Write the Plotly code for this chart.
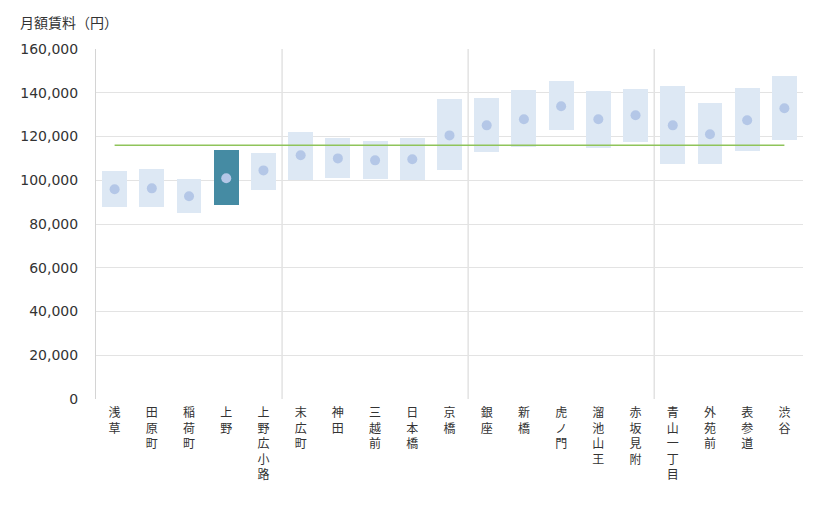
import plotly.graph_objects as go

stations = ["浅草", "田原町", "稲荷町", "上野", "上野広小路", "末広町", "神田", "三越前", "日本橋", "京橋",
            "銀座", "新橋", "虎ノ門", "溜池山王", "赤坂見附", "青山一丁目", "外苑前", "表参道", "渋谷"]
rent_low = [87900, 87900, 85200, 88700, 95500, 100100, 101200, 100600, 100100, 104800,
            113100, 115300, 123100, 114900, 117600, 107600, 107600, 113500, 118500]
rent_high = [104200, 105100, 100600, 113800, 112500, 122100, 119300, 117900, 119300, 137100,
             137600, 141300, 145400, 140800, 141700, 143100, 135300, 142200, 147700]
rent_mid = [95900, 96300, 92700, 100900, 104500, 111400, 110000, 109100, 109600, 120500,
            125100, 127900, 133800, 127900, 129700, 125100, 121000, 127400, 132900]
line_average = 116000
highlight = "上野"
group_sizes = [5, 5, 5, 4]
y_ticks = [0, 20000, 40000, 60000, 80000, 100000, 120000, 140000, 160000]

idx = list(range(len(stations)))
bar_colors = ["#458ba3" if s == highlight else "#dde8f4" for s in stations]

fig = go.Figure()
fig.add_trace(go.Bar(
    x=idx, y=[h - l for h, l in zip(rent_high, rent_low)], base=rent_low,
    marker=dict(color=bar_colors, line=dict(width=0)), width=0.67,
    hoverinfo="skip", showlegend=False))
fig.add_trace(go.Scatter(
    x=[idx[0], idx[-1]], y=[line_average, line_average], mode="lines",
    line=dict(color="#8fc45a", width=1.5), showlegend=False, hoverinfo="skip"))
fig.add_trace(go.Scatter(
    x=idx, y=rent_mid, mode="markers",
    marker=dict(color="#b4c7e7", size=10), showlegend=False))

shapes = []
pos = 0
for g in group_sizes[:-1]:
    pos += g
    shapes.append(dict(type="line", xref="x", yref="paper", x0=pos - 0.5, x1=pos - 0.5,
                       y0=0, y1=1, line=dict(color="#d4d4d4", width=1), layer="below"))

fig.update_layout(
    width=820, height=510,
    margin=dict(l=85, r=25, t=41, b=119),
    plot_bgcolor="white", paper_bgcolor="white",
    font=dict(family="DejaVu Sans, Noto Sans CJK JP", size=14, color="#333333"),
    shapes=shapes,
    annotations=[dict(text="月額賃料（円）", xref="paper", yref="paper", x=-78 / 710, y=1.0,
                      yshift=27, xanchor="left", yanchor="middle", showarrow=False,
                      font=dict(family="Noto Sans CJK JP", size=14, color="#333333"))],
    bargap=0,
)
fig.update_xaxes(
    tickmode="array", tickvals=idx, ticktext=["<br>".join(list(s)) for s in stations],
    tickangle=0, range=[-0.5, len(stations) - 0.5], showgrid=False, zeroline=False,
    tickfont=dict(family="Noto Sans CJK JP", size=12, color="#333333"), ticks="", showline=False,
    ticklabelstandoff=5)
fig.update_yaxes(
    range=[0, 160000], tickvals=y_ticks, tickformat=",d", showgrid=True, gridcolor="#e3e3e3",
    zeroline=False, showline=True, linecolor="#d4d4d4", ticks="", ticklabelstandoff=14)

fig.write_html("out.html")
